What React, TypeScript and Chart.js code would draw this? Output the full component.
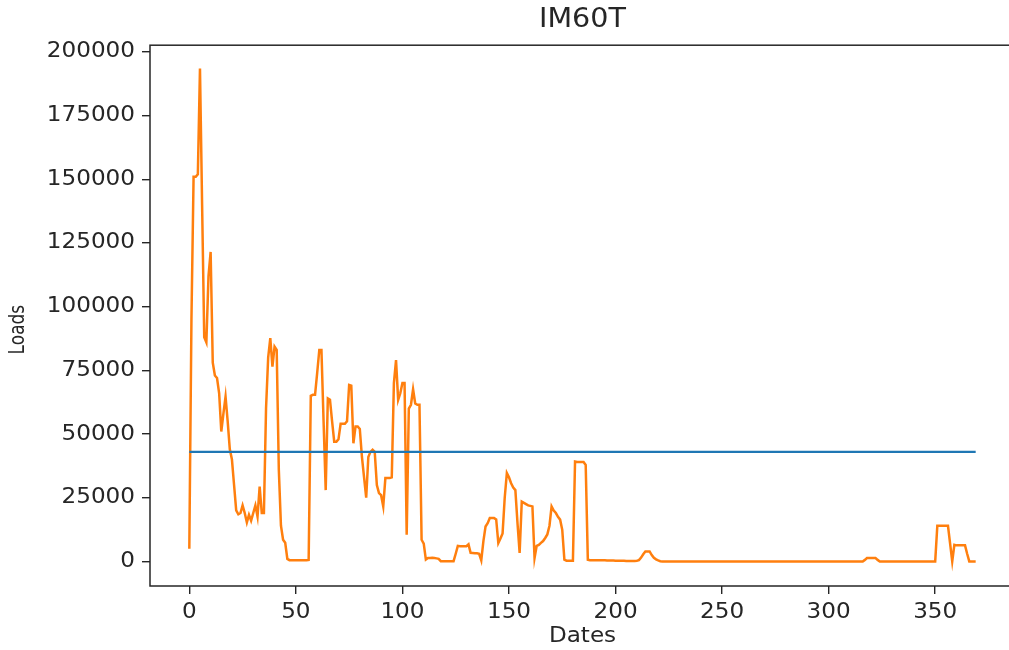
import React, { useEffect, useRef } from "react";
import { Chart, registerables } from "chart.js";

Chart.register(...registerables);

const chartTitle = "IM60T";
const xLabel = "Dates";
const yLabel = "Loads";

// Loads per date index (0..369)
const loads = [
  5000, 95000, 151000, 151000, 152000, 193500, 140000, 88000, 86000, 112000,
  121500, 78000, 73000, 72000, 66000, 51000, 58000, 64700, 55000, 44000,
  40000, 30000, 20000, 18500, 19000, 22000, 19000, 15300, 18300, 16000,
  19000, 22000, 17600, 29400, 19000, 19000, 60000, 80000, 87700, 76500,
  84300, 83000, 36000, 14000, 8500, 7300, 1000, 500, 500, 500,
  500, 500, 500, 500, 500, 500, 600, 65000, 65400, 65400,
  74000, 83000, 83000, 55000, 28000, 64000, 63500, 55000, 47000, 47000,
  48000, 54000, 54000, 54000, 55000, 69300, 69000, 46400, 53000, 53000,
  52000, 41000, 33000, 25000, 41000, 43000, 43800, 43000, 30000, 26800,
  26000, 21600, 32700, 32700, 32700, 33000, 70000, 79000, 63400, 66000,
  70000, 70000, 10500, 60000, 61500, 67600, 62000, 61500, 61500, 8500,
  7000, 700, 1300, 1300, 1400, 1300, 1200, 1000, 100, 100,
  100, 100, 100, 100, 100, 3000, 6100, 6000, 6000, 6000,
  6000, 6700, 3400, 3300, 3200, 3200, 3000, 400, 8000, 13700,
  15000, 17000, 17000, 17000, 16500, 7200, 9000, 11000, 25000, 34700,
  33000, 30700, 29000, 28000, 15000, 3300, 23500, 23000, 22500, 22000,
  21800, 21600, 1300, 6100, 6500, 7300, 8000, 9200, 10600, 14000,
  21600, 20000, 19000, 17500, 16400, 12400, 700, 300, 300, 300,
  300, 39200, 39000, 39000, 39000, 39000, 37900, 700, 500, 500,
  500, 500, 500, 500, 500, 500, 400, 400, 400, 400,
  300, 300, 300, 300, 300, 200, 200, 200, 200, 200,
  300, 500, 1500, 2800, 3900, 3900, 3900, 2500, 1400, 800,
  400, 100, 0, 0, 0, 0, 0, 0, 0, 0,
  0, 0, 0, 0, 0, 0, 0, 0, 0, 0,
  0, 0, 0, 0, 0, 0, 0, 0, 0, 0,
  0, 0, 0, 0, 0, 0, 0, 0, 0, 0,
  0, 0, 0, 0, 0, 0, 0, 0, 0, 0,
  0, 0, 0, 0, 0, 0, 0, 0, 0, 0,
  0, 0, 0, 0, 0, 0, 0, 0, 0, 0,
  0, 0, 0, 0, 0, 0, 0, 0, 0, 0,
  0, 0, 0, 0, 0, 0, 0, 0, 0, 0,
  0, 0, 0, 0, 0, 0, 0, 600, 1300, 1300,
  1300, 1300, 1300, 600, 0, 0, 0, 0, 0, 0,
  0, 0, 0, 0, 0, 0, 0, 0, 0, 0,
  0, 0, 0, 0, 0, 0, 0, 0, 0, 0,
  0, 14000, 14000, 14000, 14000, 14000, 14000, 7000, 0, 6500,
  6300, 6300, 6300, 6300, 6300, 3000, 0, 0, 0, 0,
];

const meanLoad = 43000;
const meanSpan = [0, 369];

const xTicks = [0, 50, 100, 150, 200, 250, 300, 350];
const yTicks = [0, 25000, 50000, 75000, 100000, 125000, 150000, 175000, 200000];

const FONT = "DejaVu Sans";
const INK = "#262626";
const TEXT_STRETCH = 1.1;

export default function App() {
  const ref = useRef<HTMLCanvasElement>(null);

  useEffect(() => {
    // The reference figure's text is slightly widened horizontally.
    const stretch = {
      id: "stretch",
      beforeDraw(chart: any) {
        const ctx = chart.ctx;
        if (!ctx.__origFillText) {
          const orig = ctx.fillText.bind(ctx);
          ctx.__origFillText = orig;
          ctx.fillText = (t: string, x: number, y: number) => {
            ctx.save();
            ctx.translate(x, y);
            ctx.scale(TEXT_STRETCH, 1);
            orig(t, 0, 0);
            ctx.restore();
          };
        }
      },
    };

    const frame = {
      id: "frame",
      afterDatasetsDraw(chart: any) {
        const { ctx, chartArea: a } = chart;
        ctx.save();
        ctx.strokeStyle = INK;
        ctx.lineWidth = 1.5;
        ctx.strokeRect(a.left, a.top, a.right - a.left, a.bottom - a.top);
        ctx.restore();
      },
      afterDraw(chart: any) {
        const { ctx, chartArea: a } = chart;
        ctx.save();
        ctx.translate(18, (a.top + a.bottom) / 2 + 14);
        ctx.rotate(-Math.PI / 2);
        ctx.scale(1, 1.25);
        ctx.font = `normal 17px "${FONT}"`;
        ctx.fillStyle = INK;
        ctx.textAlign = "center";
        ctx.textBaseline = "middle";
        (ctx.__origFillText || ctx.fillText.bind(ctx))(yLabel, 0, 0);
        ctx.restore();
      },
    };

    const tickFont = { family: FONT, size: 21, weight: "normal" as const };

    const chart = new Chart(ref.current!, {
      type: "line",
      data: {
        datasets: [
          {
            label: "mean",
            data: meanSpan.map((x) => ({ x, y: meanLoad })),
            borderColor: "#1f77b4",
            borderWidth: 2.2,
            pointRadius: 0,
            tension: 0,
          },
          {
            label: "loads",
            data: loads.map((y, i) => ({ x: i, y })),
            borderColor: "#ff7f0e",
            borderWidth: 2.5,
            pointRadius: 0,
            tension: 0,
          },
        ],
      },
      options: {
        responsive: false,
        animation: false,
        devicePixelRatio: 1,
        layout: { padding: { left: 0, right: 15, top: 0, bottom: 0 } },
        plugins: {
          legend: { display: false },
          tooltip: { enabled: false },
          title: {
            display: true,
            text: chartTitle,
            fullSize: false,
            color: INK,
            font: { family: FONT, size: 26, weight: "normal" },
            padding: { top: 5, bottom: 9 },
          },
        },
        scales: {
          x: {
            type: "linear",
            min: -18.45,
            max: 387.45,
            afterBuildTicks: (s: any) => {
              s.ticks = xTicks.map((v) => ({ value: v }));
            },
            afterFit: (s: any) => {
              s.height = 64;
            },
            border: { display: false },
            grid: {
              display: true,
              drawOnChartArea: false,
              drawTicks: true,
              tickLength: 8,
              tickColor: INK,
              lineWidth: 1.4,
            },
            ticks: {
              autoSkip: false,
              maxRotation: 0,
              padding: 6,
              color: INK,
              font: tickFont,
              callback: (v: any) => String(v),
            },
            title: {
              display: true,
              text: xLabel,
              color: INK,
              font: tickFont,
              padding: { top: 0, bottom: 1 },
            },
          },
          y: {
            type: "linear",
            min: -9650,
            max: 202650,
            afterBuildTicks: (s: any) => {
              s.ticks = yTicks.map((v) => ({ value: v }));
            },
            afterFit: (s: any) => {
              s.width = 150;
            },
            border: { display: false },
            grid: {
              display: true,
              drawOnChartArea: false,
              drawTicks: true,
              tickLength: 8,
              tickColor: INK,
              lineWidth: 1.4,
            },
            ticks: {
              autoSkip: false,
              padding: 7,
              color: INK,
              font: tickFont,
              callback: (v: any) => String(v),
            },
            title: { display: false },
          },
        },
      },
      plugins: [stretch, frame],
    });

    return () => chart.destroy();
  }, []);

  return (
    <div
      style={{
        position: "fixed",
        left: 0,
        top: 0,
        width: 1009,
        height: 650,
        overflow: "hidden",
        background: "#fff",
      }}
    >
      <canvas ref={ref} width={1030} height={650} style={{ display: "block" }} />
    </div>
  );
}
